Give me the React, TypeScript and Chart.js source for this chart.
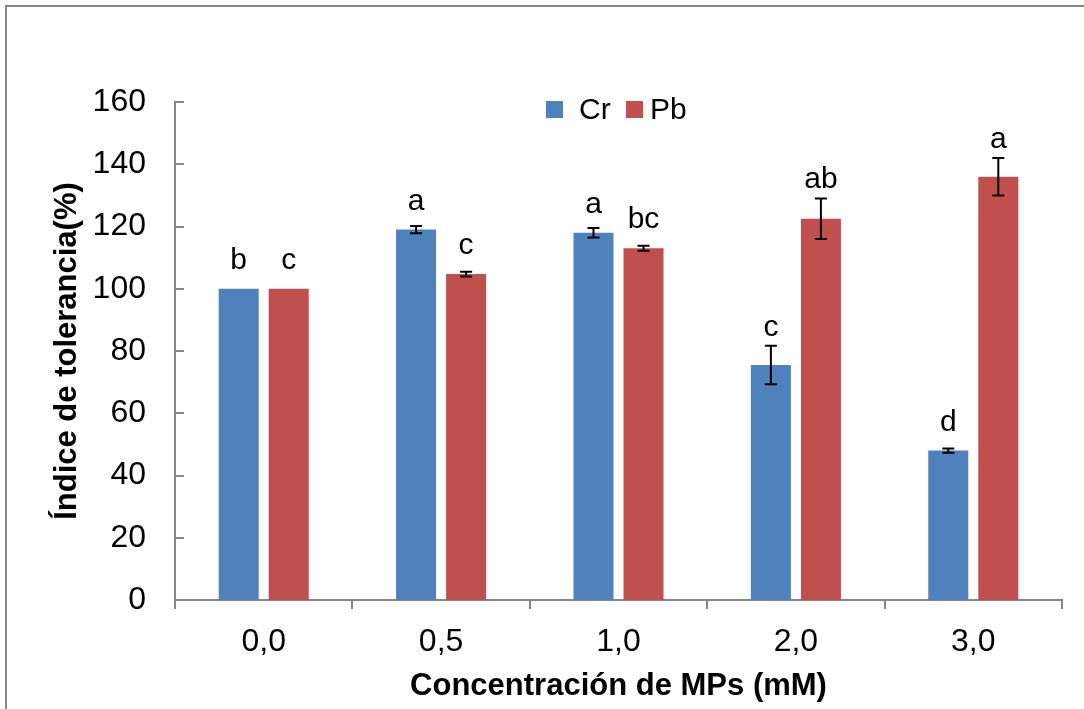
import React, { useEffect, useRef } from "react";
import { Chart, registerables } from "chart.js";

Chart.register(...registerables);

const categories = ["0,0", "0,5", "1,0", "2,0", "3,0"];
const seriesNames = ["Cr", "Pb"];
const crValues = [100, 119, 118, 75.5, 48];
const pbValues = [100, 104.7, 113, 122.5, 136];
const crErrors = [0, 1.2, 1.5, 6.2, 0.7];
const pbErrors = [0, 0.8, 0.8, 6.5, 6];
const crLetters = ["b", "a", "a", "c", "d"];
const pbLetters = ["c", "c", "bc", "ab", "a"];
const yTicks = [0, 20, 40, 60, 80, 100, 120, 140, 160];
const yTitle = "Índice de tolerancia(%)";
const xTitle = "Concentración de MPs (mM)";

const COLORS = ["#4F81BD", "#C0504D"];
const AXIS = "#878787";
const FONT = "'Liberation Sans', Arial, Helvetica, sans-serif";

const errorsAll = [crErrors, pbErrors];
const lettersAll = [crLetters, pbLetters];

const decorPlugin = {
  id: "decor",
  beforeDraw(chart: any) {
    const ctx = chart.ctx;
    ctx.save();
    ctx.fillStyle = "#ffffff";
    ctx.fillRect(0, 0, chart.width, chart.height);
    ctx.strokeStyle = AXIS;
    ctx.lineWidth = 2;
    ctx.strokeRect(6, 6, chart.width + 40, chart.height + 40);
    ctx.restore();
  },
  afterDatasetsDraw(chart: any) {
    const ctx = chart.ctx;
    const y = chart.scales.y;
    const area = chart.chartArea;
    ctx.save();
    // inner y tick marks
    ctx.strokeStyle = AXIS;
    ctx.lineWidth = 2;
    y.ticks.forEach((t: any) => {
      const py = Math.round(y.getPixelForValue(t.value));
      ctx.beginPath();
      ctx.moveTo(area.left, py);
      ctx.lineTo(area.left + 9, py);
      ctx.stroke();
    });
    // error bars + letters
    chart.data.datasets.forEach((ds: any, di: number) => {
      const meta = chart.getDatasetMeta(di);
      meta.data.forEach((bar: any, i: number) => {
        const v = ds.data[i];
        const e = errorsAll[di][i];
        const x = bar.x;
        const top = y.getPixelForValue(v + e);
        const bot = y.getPixelForValue(v - e);
        if (e > 0) {
          ctx.strokeStyle = "#000";
          ctx.lineWidth = 2;
          ctx.beginPath();
          ctx.moveTo(x, top);
          ctx.lineTo(x, bot);
          ctx.moveTo(x - 6, top);
          ctx.lineTo(x + 6, top);
          ctx.moveTo(x - 6, bot);
          ctx.lineTo(x + 6, bot);
          ctx.stroke();
        }
        const base = e > 0 ? Math.min(bar.y - 20, top - 10) : bar.y - 20;
        ctx.fillStyle = "#000";
        ctx.font = `30px ${FONT}`;
        ctx.textAlign = "center";
        ctx.textBaseline = "alphabetic";
        ctx.fillText(lettersAll[di][i], x, base);
      });
    });
    // legend
    const items = [
      { sq: 546, tx: 579 },
      { sq: 626, tx: 650 },
    ];
    ctx.font = `30px ${FONT}`;
    ctx.textAlign = "left";
    ctx.textBaseline = "middle";
    chart.data.datasets.forEach((ds: any, di: number) => {
      ctx.fillStyle = ds.backgroundColor;
      ctx.fillRect(items[di].sq, 101, 17, 17);
      ctx.fillStyle = "#000";
      ctx.fillText(ds.label, items[di].tx, 111);
    });
    ctx.restore();
  },
};

export default function App() {
  const ref = useRef<HTMLCanvasElement | null>(null);
  useEffect(() => {
    if (!ref.current) return;
    Chart.defaults.font.family = FONT;
    const chart = new Chart(ref.current, {
      type: "bar",
      data: {
        labels: categories,
        datasets: [
          { label: seriesNames[0], data: crValues, backgroundColor: COLORS[0] },
          { label: seriesNames[1], data: pbValues, backgroundColor: COLORS[1] },
        ],
      },
      options: {
        responsive: false,
        animation: false,
        layout: { padding: { top: 102, right: 22, left: 0, bottom: 0 } },
        datasets: { bar: { categoryPercentage: 0.564, barPercentage: 0.8 } },
        plugins: { legend: { display: false }, tooltip: { enabled: false }, title: { display: false } },
        scales: {
          x: {
            grid: { display: true, drawOnChartArea: false, drawTicks: true, tickLength: 9, color: AXIS, lineWidth: 2 },
            border: { display: true, color: AXIS, width: 2 },
            ticks: { color: "#000", font: { size: 32, family: FONT }, padding: 14 },
            title: { display: true, text: xTitle, color: "#000", font: { size: 31, weight: "bold", family: FONT }, padding: { top: 0, bottom: 4 } },
            afterFit: (s: any) => { s.height = 109; },
          },
          y: {
            min: 0,
            max: 160,
            grid: { display: false },
            border: { display: true, color: AXIS, width: 2 },
            ticks: { color: "#000", font: { size: 32, family: FONT }, padding: 21 },
            afterBuildTicks: (s: any) => { s.ticks = yTicks.map((v) => ({ value: v })); },
            title: { display: true, text: yTitle, color: "#000", font: { size: 31, weight: "bold", family: FONT }, padding: { top: 49, bottom: 0 } },
            afterFit: (s: any) => { s.width = 175; },
          },
        },
      },
      plugins: [decorPlugin],
    } as any);
    return () => chart.destroy();
  }, []);
  return (
    <div style={{ position: "fixed", left: 0, top: 0, width: 1084, height: 709, background: "#fff" }}>
      <canvas ref={ref} width={1084} height={709} style={{ width: 1084, height: 709, display: "block" }} />
    </div>
  );
}
